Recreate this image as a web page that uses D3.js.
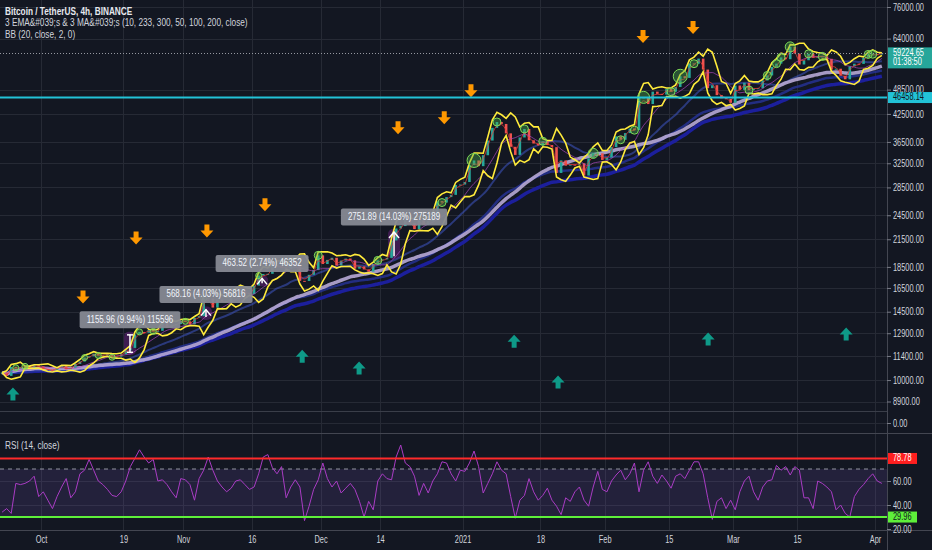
<!DOCTYPE html>
<html>
<head>
<meta charset="utf-8">
<script src="https://cdn.jsdelivr.net/npm/d3@7"></script>
<style>
  body { margin: 0; background: #131722; }
  svg { display: block; }
  text { font-family: "Liberation Sans", Arial, sans-serif; font-size: 10px; fill: #d1d4dc; }
</style>
</head>
<body>
<svg id="chart" width="932" height="550"></svg>
<script>
// daily closes, BTC/USDT, starting 2020-09-22
var startDay = "2020-09-22";
var closes = [
  10420, 10230, 10740, 10690, 10730, 10775, 10700, 10840, 10775,
  10620, 10570, 10550, 10670, 10790, 10600, 10670, 10920, 11060, 11300, 11380, 11540, 11430, 11430, 11500, 11320,
  11360, 11500, 11750, 11910, 12820, 12990, 12930, 13120, 13030, 13070, 13650, 13280, 13460, 13560, 13800,
  13760, 13550, 14030, 14150, 15590, 15580, 14830, 15480, 15330, 15300, 15700, 16280, 16320, 16070, 15960,
  16720, 17650, 17800, 17820, 18660, 18700, 18420, 18370, 19160, 18720, 17150, 17140, 17720, 18180, 19700,
  18790, 19220, 19440, 18650, 19150, 19360, 19170, 18320, 18550, 18250, 18030, 18800, 19170, 19270, 19430,
  21360, 22800, 23100, 23830, 23470, 22720, 23810, 23230, 23730, 24690, 26440, 26250, 27040, 27370, 28870, 28950,
  29350, 32180, 33000, 31990, 33950, 36770, 39400, 40670, 40240, 38240, 35540, 34010, 37390, 39160, 36820,
  36180, 35790, 36630, 35890, 35470, 30830, 33010, 32080, 32260, 32250, 32500, 30400, 33400, 34300, 34300, 33100,
  33510, 35480, 37620, 36930, 38290, 39250, 38900, 46450, 46500, 44840, 47970, 47400, 47200, 48650,
  47940, 49200, 52150, 51680, 55900, 55840, 57410, 54090, 48890, 49680, 47070, 46280, 46110, 45140,
  49590, 48440, 50350, 48370, 48750, 48870, 50970, 52380, 54880, 55850, 57770, 57220, 61190, 59000, 55600,
  56900, 58910, 57650, 58030, 58100, 57350, 54080, 54340, 52300, 51300, 55030, 55840, 55780, 57630, 58730, 58790,
  58720, 59225
];
var rsi14 = [
  34, 37, 33, 58, 57, 58, 60, 64, 47, 51,
  44, 37, 47, 55, 62, 46, 51, 66, 69, 78,
  69, 60, 57, 53, 48, 47, 51, 60, 72, 79,
  86, 80, 75, 78, 60, 61, 57, 51, 46, 62,
  61, 57, 44, 62, 69, 80, 69, 60, 55, 51,
  54, 60, 61, 57, 53, 55, 66, 80, 82, 71,
  66, 72, 46, 55, 61, 55, 27, 39, 53, 61,
  75, 62, 55, 60, 50, 54, 58, 53, 43, 30,
  43, 36, 60, 66, 62, 61, 80, 90, 75, 72,
  64, 48, 58, 50, 60, 66, 76, 75, 66, 60,
  69, 68, 75, 85, 72, 50, 58, 66, 76, 69,
  66, 47, 29, 44, 48, 62, 51, 44, 48, 54,
  44, 39, 32, 46, 43, 51, 55, 44, 39, 55,
  68, 53, 51, 60, 65, 69, 61, 66, 75, 51,
  69, 76, 64, 58, 65, 60, 54, 64, 66, 62,
  69, 76, 76, 66, 46, 28, 43, 46, 37, 44,
  36, 51, 60, 64, 51, 44, 55, 60, 61, 73,
  69, 72, 65, 72, 69, 46, 46, 37, 60, 58,
  55, 51, 36, 40, 33, 30, 47, 53, 57, 62,
  66, 60, 58
];

var priceTicks = [76000, 64000, 48500, 42500, 36500, 32500, 28500, 24500, 21500, 18500, 16500, 14500, 12900, 11400, 10000, 8900];
var rsiTicks = [60, 40, 20];
var timeTickDates = ["2020-10-01", "2020-10-19", "2020-11-01", "2020-11-16", "2020-12-01", "2020-12-14", "2021-01-01", "2021-01-18", "2021-02-01", "2021-02-15", "2021-03-01", "2021-03-15", "2021-04-01"];
var timeTickLabels = ["Oct", "19", "Nov", "16", "Dec", "14", "2021", "18", "Feb", "15", "Mar", "15", "Apr"];

var sellDates = ["2020-10-10T04", "2020-10-21T18", "2020-11-06T05", "2020-11-18T21", "2020-12-17T22", "2020-12-28T00", "2021-01-02T20", "2021-02-09T09", "2021-02-20T07"];
var sellPrices = [15660, 21600, 22440, 25850, 39330, 41530, 48100, 64540, 67800];
var buyDates = ["2020-09-24T21", "2020-11-27T00", "2020-12-09T10", "2021-01-12T06", "2021-01-21T20", "2021-02-23T14", "2021-03-25T17"];
var buyPrices = [9290, 11420, 10700, 12390, 9920, 12530, 12880];

var circleDates = ["2020-09-25", "2020-09-27", "2020-10-10", "2020-10-13", "2020-10-16", "2020-10-22", "2020-10-25", "2020-11-01", "2020-11-05", "2020-11-17", "2020-11-30", "2020-12-13", "2020-12-27", "2021-01-03", "2021-01-08", "2021-01-14", "2021-01-18", "2021-01-29", "2021-02-04", "2021-02-07", "2021-02-09", "2021-02-15", "2021-02-17", "2021-02-20", "2021-03-04", "2021-03-08", "2021-03-10", "2021-03-11", "2021-03-13", "2021-03-17", "2021-03-20", "2021-03-30", "2021-03-31"];
var circleSizes = [3, 3, 3, 3, 3, 3, 3, 3, 3, 3, 4, 4, 4, 7, 4, 4, 4, 5, 4, 4, 6, 4, 7, 4, 4, 4, 4, 4, 5, 4, 4, 4, 4];

var measureDates = ["2020-10-20T10", "2020-11-06T00", "2020-11-18T06", "2020-12-17T01"];
var measureFrom = [11629, 14098, 16917, 19614];
var measureTo = [12785, 14666, 17380, 22366];
var measureLabels = ["1155.96 (9.94%) 115596", "568.16 (4.03%) 56816", "463.52 (2.74%) 46352", "2751.89 (14.03%) 275189"];

var resistance = 46458.14;
var lastPrice = 59224.65;
var countdown = "01:38:50";
var rsiUpper = 78.78, rsiLower = 29.96, rsiBandTop = 70, rsiBandBottom = 30;

var legendLines = ["Bitcoin / TetherUS, 4h, BINANCE", "3 EMA&#039;s & 3 MA&#039;s (10, 233, 300, 50, 100, 200, close)", "BB (20, close, 2, 0)"];

// ---------------------------------------------------------------
var W = 932, H = 550, plotRight = 887, mainBottom = 433, rsiBottom = 530;
var barsPerDay = 6;

var parseDay = d3.utcParse("%Y-%m-%d");
var parseHour = d3.utcParse("%Y-%m-%dT%H");
var day0 = parseDay(startDay);
var dates = closes.map(function (c, i) { return d3.utcHour.offset(d3.utcDay.offset(day0, i), 12); });
var opens = closes.map(function (c, i) { return i ? closes[i - 1] : c; });

var x = d3.scaleUtc().domain([parseDay("2020-10-01"), parseDay("2021-04-01")]).range([41, 875]);
var y = d3.scaleLog().domain([8900, 76000]).range([401.5, 7]);
var ry = d3.scaleLinear().domain([20, 60]).range([529, 481]);

function days(n) { return Math.max(2, Math.round(n / barsPerDay)); }
function sma(v, n) {
    return v.map(function (d, i) { return d3.mean(v.slice(Math.max(0, i - n + 1), i + 1)); });
}
function ema(v, n) {
    var k = 2 / (n + 1), e;
    return v.map(function (d, i) { e = i ? d * k + e * (1 - k) : d; return e; });
}
function bollinger(v, n, m) {
    return v.map(function (d, i) {
        var w = v.slice(Math.max(0, i - n + 1), i + 1);
        var mu = d3.mean(w);
        var sd = Math.sqrt(d3.mean(w, function (a) { return (a - mu) * (a - mu); }));
        return { up: mu + m * sd, lo: mu - m * sd };
    });
}
// TradingView's label font is narrower than anything installed, so squeeze
function narrow(sel, k) {
    k = k || 0.74;
    sel.each(function () {
        var l = this.getComputedTextLength();
        this.setAttribute("textLength", l * k);
        this.setAttribute("lengthAdjust", "spacingAndGlyphs");
    });
    return sel;
}

var svg = d3.select("#chart");
var defs = svg.append("defs");
defs.append("clipPath").attr("id", "clipMain").append("rect")
    .attr("x", 0).attr("y", 0).attr("width", plotRight).attr("height", mainBottom);
defs.append("clipPath").attr("id", "clipRsi").append("rect")
    .attr("x", 0).attr("y", mainBottom).attr("width", plotRight).attr("height", rsiBottom - mainBottom);

svg.append("rect").attr("width", W).attr("height", H).attr("fill", "#131722");

// grid
var grid = svg.append("g").attr("stroke", "#262a35").attr("stroke-width", 1);
grid.selectAll("line.h").data(priceTicks).join("line")
    .attr("x1", 0).attr("x2", plotRight)
    .attr("y1", function (d) { return Math.round(y(d)) + 0.5; })
    .attr("y2", function (d) { return Math.round(y(d)) + 0.5; });
grid.selectAll("line.r").data(rsiTicks.slice(0, 2)).join("line")
    .attr("x1", 0).attr("x2", plotRight)
    .attr("y1", function (d) { return Math.round(ry(d)) + 0.5; })
    .attr("y2", function (d) { return Math.round(ry(d)) + 0.5; });
grid.selectAll("line.v").data(timeTickDates).join("line")
    .attr("y1", 0).attr("y2", rsiBottom)
    .attr("x1", function (d) { return Math.round(x(parseDay(d))) + 0.5; })
    .attr("x2", function (d) { return Math.round(x(parseDay(d))) + 0.5; });
grid.append("line").attr("x1", 0).attr("x2", plotRight).attr("y1", mainBottom - 9.5).attr("y2", mainBottom - 9.5);
grid.append("line").attr("x1", 0).attr("x2", plotRight).attr("y1", mainBottom - 21.5).attr("y2", mainBottom - 21.5).attr("stroke", "#3a3e49");

// ---------------------------------------------------------------
// main pane
var main = svg.append("g").attr("clip-path", "url(#clipMain)");

var line = function (vals) {
    return d3.line().x(function (d, i) { return x(dates[i]); }).y(function (d) { return y(d); })
        .curve(d3.curveMonotoneX)(vals);
};

var ema10 = ema(closes, days(10)), ema233 = ema(closes, days(233)), ema300 = ema(closes, days(300));
var ma50 = sma(closes, days(50)), ma100 = sma(closes, days(100)), ma200 = sma(closes, days(200));
var bb = bollinger(closes, Math.ceil(20 / barsPerDay), 2);

main.append("path").attr("d", line(ema300)).attr("fill", "none").attr("stroke", "#1c1f9c").attr("stroke-width", 3.5);
main.append("path").attr("d", line(ema233)).attr("fill", "none").attr("stroke", "#27339a").attr("stroke-width", 2.5).attr("stroke-opacity", 0.8);
main.append("path").attr("d", line(ma100)).attr("fill", "none").attr("stroke", "#3e56c4").attr("stroke-width", 2).attr("stroke-opacity", 0.55);
main.append("path").attr("d", line(ma200)).attr("fill", "none").attr("stroke", "#b7a8d6").attr("stroke-width", 3.5).attr("stroke-opacity", 0.9);

// measure highlight
main.selectAll("rect.mshade").data(measureDates).join("rect")
    .attr("x", function (d) { return x(parseHour(d)) - 6; }).attr("width", 12)
    .attr("y", function (d, i) { return y(measureTo[i]) - 3; })
    .attr("height", function (d, i) { return y(measureFrom[i]) - y(measureTo[i]) + 6; })
    .attr("rx", 5).attr("fill", "#8e24aa").attr("fill-opacity", 0.35);

// candles
main.selectAll("rect.candle").data(closes).join("rect")
    .attr("x", function (d, i) { return x(dates[i]) - 1.3; }).attr("width", 2.6)
    .attr("y", function (d, i) { return y(Math.max(d, opens[i])); })
    .attr("height", function (d, i) { return Math.max(1, Math.abs(y(d) - y(opens[i]))); })
    .attr("fill", function (d, i) { return d >= opens[i] ? "#26a69a" : "#ef5350"; });

main.append("path").attr("d", line(ma50)).attr("fill", "none").attr("stroke", "#ab47bc").attr("stroke-width", 1).attr("stroke-opacity", 0.7);
main.append("path").attr("d", line(ema10)).attr("fill", "none").attr("stroke", "#e53935").attr("stroke-width", 1).attr("stroke-opacity", 0.8);

// bollinger bands
var bbLine = function (key) {
    return d3.line().x(function (d, i) { return x(dates[i]); }).y(function (d) { return y(d[key]); })(bb);
};
main.append("path").attr("d", bbLine("up")).attr("fill", "none").attr("stroke", "#ffeb3b").attr("stroke-width", 1.6);
main.append("path").attr("d", bbLine("lo")).attr("fill", "none").attr("stroke", "#ffeb3b").attr("stroke-width", 1.6);

// green circles
main.selectAll("circle.sig").data(circleDates).join("circle")
    .attr("cx", function (d) { var i = d3.utcDay.count(day0, parseDay(d)); return x(dates[i]); })
    .attr("cy", function (d) { var i = d3.utcDay.count(day0, parseDay(d)); return y(closes[i]); })
    .attr("r", function (d, i) { return circleSizes[i]; })
    .attr("fill", "#4caf50").attr("fill-opacity", 0.4).attr("stroke", "#7ed957").attr("stroke-width", 1);

// arrows
var downArrow = "M-2.5,-7h5v6h4l-6.5,7l-6.5,-7h4z";
var upArrow = "M-2.5,7h5v-6h4l-6.5,-7l-6.5,7h4z";
main.selectAll("path.sell").data(sellDates).join("path")
    .attr("d", downArrow).attr("fill", "#ff9800")
    .attr("transform", function (d, i) { return "translate(" + x(parseHour(d)) + "," + y(sellPrices[i]) + ")"; });
main.selectAll("path.buy").data(buyDates).join("path")
    .attr("d", upArrow).attr("fill", "#0e9a88")
    .attr("transform", function (d, i) { return "translate(" + x(parseHour(d)) + "," + y(buyPrices[i]) + ")"; });

// resistance and last price lines
main.append("line").attr("x1", 0).attr("x2", plotRight)
    .attr("y1", y(resistance)).attr("y2", y(resistance))
    .attr("stroke", "#22c3d8").attr("stroke-width", 2);
main.append("line").attr("x1", 0).attr("x2", plotRight)
    .attr("y1", Math.round(y(lastPrice)) + 0.5).attr("y2", Math.round(y(lastPrice)) + 0.5)
    .attr("stroke", "#9598a1").attr("stroke-width", 1).attr("stroke-dasharray", "1,2");

// price range measurements
var ms = main.selectAll("g.measure").data(measureDates).join("g");
ms.each(function (d, i) {
    var g = d3.select(this);
    var mx = x(parseHour(d)), y0 = y(measureFrom[i]), y1 = y(measureTo[i]);
    g.append("line").attr("x1", mx).attr("x2", mx).attr("y1", y0).attr("y2", y1)
        .attr("stroke", "#ffffff").attr("stroke-width", 1.5);
    if (i === 0) {
        g.append("line").attr("x1", mx - 3).attr("x2", mx + 3).attr("y1", y0).attr("y2", y0).attr("stroke", "#fff").attr("stroke-width", 1.5);
        g.append("line").attr("x1", mx - 3).attr("x2", mx + 3).attr("y1", y1).attr("y2", y1).attr("stroke", "#fff").attr("stroke-width", 1.5);
    } else {
        g.append("path").attr("d", "M" + (mx - 5) + "," + (y1 + 6) + "L" + mx + "," + y1 + "L" + (mx + 5) + "," + (y1 + 6))
            .attr("fill", "none").attr("stroke", "#fff").attr("stroke-width", 1.5);
    }
    var t = g.append("text").attr("x", mx).attr("y", y1 - 15).attr("text-anchor", "middle")
        .attr("dominant-baseline", "middle").style("fill", "#f0f3fa").style("font-size", "10.5px")
        .text(measureLabels[i]);
    var w = t.node().getComputedTextLength() * 0.76 + 14;
    narrow(t, 0.76);
    g.insert("rect", "text").attr("x", mx - w / 2).attr("y", y1 - 23.5).attr("width", w).attr("height", 17)
        .attr("rx", 2).attr("fill", "#868993").attr("fill-opacity", 0.95);
});

// ---------------------------------------------------------------
// RSI pane
var rsiG = svg.append("g").attr("clip-path", "url(#clipRsi)");
rsiG.append("rect").attr("x", 0).attr("width", plotRight)
    .attr("y", ry(rsiBandTop)).attr("height", ry(rsiBandBottom) - ry(rsiBandTop))
    .attr("fill", "#7e57c2").attr("fill-opacity", 0.16);
rsiG.append("line").attr("x1", 0).attr("x2", plotRight).attr("y1", ry(rsiBandTop)).attr("y2", ry(rsiBandTop))
    .attr("stroke", "#b2b5be").attr("stroke-dasharray", "4,4").attr("stroke-opacity", 0.8);
rsiG.append("path")
    .attr("d", d3.line().x(function (d, i) { return x(dates[i]); }).y(function (d) { return ry(d); })(rsi14))
    .attr("fill", "none").attr("stroke", "#a93cc4").attr("stroke-width", 1);
rsiG.append("line").attr("x1", 0).attr("x2", plotRight).attr("y1", ry(rsiUpper)).attr("y2", ry(rsiUpper))
    .attr("stroke", "#ff2a2a").attr("stroke-width", 2);
rsiG.append("line").attr("x1", 0).attr("x2", plotRight).attr("y1", ry(rsiLower)).attr("y2", ry(rsiLower))
    .attr("stroke", "#5ef03a").attr("stroke-width", 2);

// ---------------------------------------------------------------
// separators
var sep = svg.append("g").attr("stroke", "#434651").attr("stroke-width", 1);
sep.append("line").attr("x1", plotRight + 0.5).attr("x2", plotRight + 0.5).attr("y1", 0).attr("y2", H);
sep.append("line").attr("x1", 0).attr("x2", W).attr("y1", mainBottom + 0.5).attr("y2", mainBottom + 0.5);
sep.append("line").attr("x1", 0).attr("x2", W).attr("y1", rsiBottom + 0.5).attr("y2", rsiBottom + 0.5);

// axes
function styleAxis(g) {
    g.select(".domain").remove();
    g.selectAll(".tick line").attr("stroke", "#787b86");
    g.selectAll(".tick text").style("fill", "#d1d4dc").style("font-size", "10px")
        .style("font-family", "\"Liberation Sans\", Arial, sans-serif").call(narrow);
}
svg.append("g").attr("transform", "translate(" + plotRight + ",0)")
    .call(d3.axisRight(y).tickValues(priceTicks).tickFormat(d3.format(".2f")).tickSize(4).tickPadding(2))
    .call(styleAxis);
svg.append("g").attr("transform", "translate(" + plotRight + ",0)")
    .call(d3.axisRight(ry).tickValues(rsiTicks).tickFormat(d3.format(".2f")).tickSize(4).tickPadding(2))
    .call(styleAxis);
svg.append("g").attr("transform", "translate(0," + rsiBottom + ")")
    .call(d3.axisBottom(x).tickValues(timeTickDates.map(parseDay))
        .tickFormat(function (d, i) { return timeTickLabels[i]; }).tickSize(0).tickPadding(6))
    .call(styleAxis);

// 0.00 label of the empty volume scale
svg.append("line").attr("x1", plotRight).attr("x2", plotRight + 4).attr("y1", mainBottom - 9.5).attr("y2", mainBottom - 9.5).attr("stroke", "#787b86");
svg.append("text").attr("x", plotRight + 6).attr("y", mainBottom - 9).attr("dominant-baseline", "middle").text("0.00").call(narrow);

// axis badges
function badge(yy, h, fill, lines, textFill, w) {
    svg.append("rect").attr("x", plotRight + 1).attr("y", yy - 5.5).attr("width", w).attr("height", h).attr("fill", fill);
    lines.forEach(function (s, k) {
        svg.append("text").attr("x", plotRight + 6).attr("y", yy + k * 9).attr("dominant-baseline", "middle")
            .style("fill", textFill).text(s).call(narrow);
    });
}
badge(y(lastPrice), 21, "#26a69a", [d3.format(".2f")(lastPrice), countdown], "#ffffff", W - plotRight);
badge(y(resistance), 11, "#22c3d8", [d3.format(".2f")(resistance)], "#131722", W - plotRight);
badge(ry(rsiUpper), 11, "#ff1f1f", [d3.format(".2f")(rsiUpper)], "#ffffff", 29);
badge(ry(rsiLower), 11, "#5ef03a", [d3.format(".2f")(rsiLower)], "#131722", 29);

// legends
svg.selectAll("text.legend").data(legendLines).join("text")
    .attr("x", 5).attr("y", function (d, i) { return 12 + i * 11.5; })
    .attr("dominant-baseline", "middle")
    .style("font-size", "11px")
    .style("font-weight", function (d, i) { return i ? "normal" : "bold"; })
    .style("fill", function (d, i) { return i ? "#d1d4dc" : "#e6e8ee"; })
    .text(function (d) { return d; })
    .call(narrow, 0.75);
svg.append("text").attr("x", 5).attr("y", mainBottom + 13).attr("dominant-baseline", "middle")
    .style("font-size", "11px").text("RSI (14, close)").call(narrow, 0.75);
</script>
</body>
</html>
